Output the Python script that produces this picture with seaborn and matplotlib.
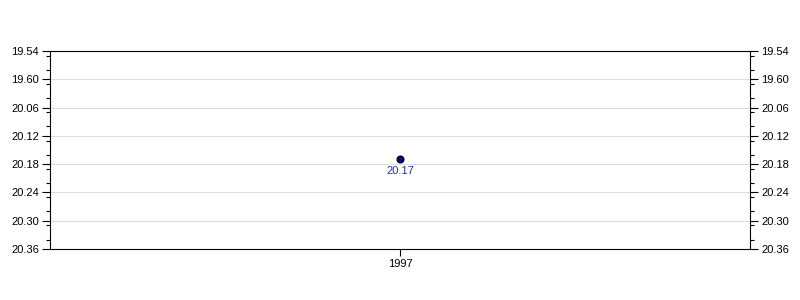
import matplotlib
matplotlib.use("Agg")
import matplotlib.pyplot as plt
import seaborn as sns
import pandas as pd
from matplotlib.ticker import FixedLocator, MultipleLocator

years = [1997]
values = [20.17]
value_labels = ["20.17"]
ytick_values = [19.94, 20.00, 20.06, 20.12, 20.18, 20.24, 20.30, 20.36]
ytick_labels = ["19.54", "19.60", "20.06", "20.12", "20.18", "20.24", "20.30", "20.36"]

sns.set_theme(style="white")
plt.rcParams['font.family'] = ['Liberation Sans', 'DejaVu Sans']

df = pd.DataFrame({"year": years, "value": values})

fig = plt.figure(figsize=(8, 3), dpi=100)
ax = fig.add_axes([0.0625, 0.17, 0.875, 0.66])

sns.scatterplot(data=df, x="year", y="value", ax=ax, s=25, color="#000080",
                edgecolor="black", linewidth=0.8, zorder=5, legend=False)

for x, y, t in zip(years, values, value_labels):
    ax.annotate(t, (x, y), xytext=(0, -4.5), textcoords="offset points",
                ha="center", va="top", fontsize=8, color="#2a2aa0")

ax.set_xlim(years[0] - 0.5, years[0] + 0.5)
ax.set_xticks(years)
ax.set_xticklabels([str(y) for y in years], fontsize=8)
ax.set_ylim(ytick_values[-1], ytick_values[0])
ax.yaxis.set_major_locator(FixedLocator(ytick_values))
ax.set_yticklabels(ytick_labels, fontsize=8)
ax.yaxis.set_minor_locator(MultipleLocator(0.03))
ax.grid(axis="y", which="major", color="#dddddd", linewidth=0.8)
ax.set_axisbelow(True)
ax.set_xlabel("")
ax.set_ylabel("")

for s in ax.spines.values():
    s.set_color("black")
    s.set_linewidth(0.8)

ax.tick_params(axis="y", which="major", direction="out", length=6, width=0.8,
               color="black", labelcolor="black", labelsize=8, left=True, right=True,
               labelleft=True, labelright=True, pad=2)
ax.tick_params(axis="y", which="minor", direction="out", length=3, width=0.8,
               color="black", left=True, right=True)
ax.tick_params(axis="x", which="major", direction="out", length=5, width=0.8,
               color="black", labelcolor="black", bottom=True, labelsize=8, pad=2)

fig.savefig("out.png", dpi=100)
